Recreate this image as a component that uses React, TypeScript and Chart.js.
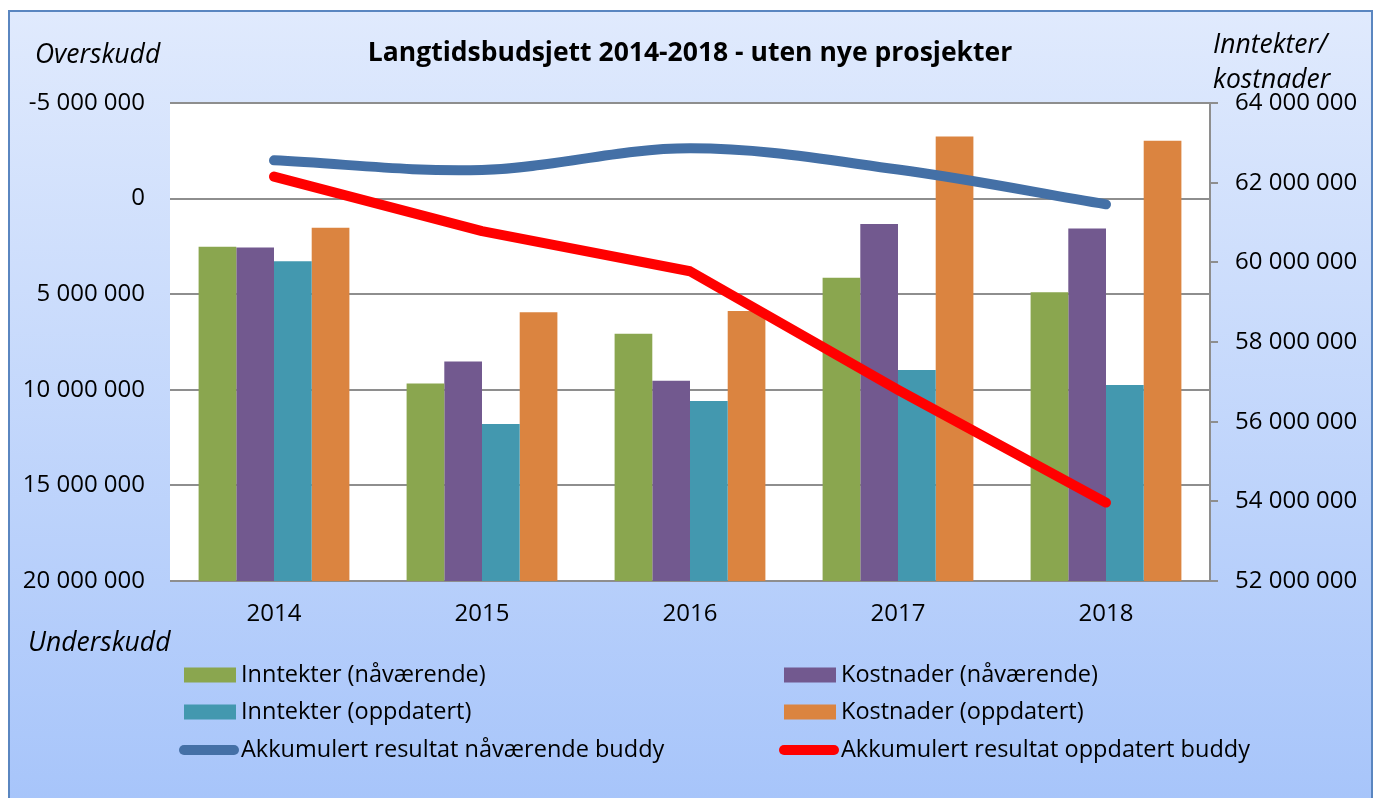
import React, { useEffect, useRef } from 'react';
import { Chart, registerables } from 'chart.js';

Chart.register(...registerables);

// ---- data ----
const years = ['2014', '2015', '2016', '2017', '2018'];
const inntekterNaavaerende = [60390000, 56960000, 58210000, 59610000, 59250000];
const kostnaderNaavaerende = [60370000, 57510000, 57030000, 60960000, 60850000];
const inntekterOppdatert = [60030000, 55940000, 56520000, 57300000, 56920000];
const kostnaderOppdatert = [60870000, 58750000, 58780000, 63160000, 63050000];
const akkumulertNaavaerende = [-2000000, -1500000, -2630000, -1520000, 300000];
const akkumulertOppdatert = [-1150000, 1700000, 3800000, 10000000, 15900000];

const seriesLabels = [
  'Inntekter (nåværende)',
  'Kostnader (nåværende)',
  'Inntekter (oppdatert)',
  'Kostnader (oppdatert)',
  'Akkumulert resultat nåværende buddy',
  'Akkumulert resultat oppdatert buddy',
];
const chartTitle = 'Langtidsbudsjett 2014-2018 - uten nye prosjekter';
const leftTopLabel = 'Overskudd';
const leftBottomLabel = 'Underskudd';
const rightLabelLines = ['Inntekter/', 'kostnader'];

const FONT = "'Open Sans', 'Noto Sans', sans-serif";

const fmt = (v: number) => {
  const s = Math.abs(Math.round(v)).toString().replace(/\B(?=(\d{3})+(?!\d))/g, ' ');
  return (v < 0 ? '-' : '') + s;
};

const decorPlugin = {
  id: 'decor',
  beforeDraw(chart: any) {
    const { ctx, chartArea: a } = chart;
    ctx.save();
    ctx.fillStyle = '#ffffff';
    ctx.fillRect(a.left, a.top, a.right - a.left, a.bottom - a.top);
    ctx.restore();
  },
  afterDraw(chart: any) {
    const { ctx, chartArea: a } = chart;
    ctx.save();
    ctx.fillStyle = '#000';
    ctx.textBaseline = 'middle';
    // title
    ctx.font = `bold 26.5px ${FONT}`;
    ctx.textAlign = 'center';
    ctx.fillText(chartTitle, (a.left + a.right) / 2, 53);
    // axis captions
    ctx.font = `italic 26.5px ${FONT}`;
    ctx.textAlign = 'left';
    ctx.fillText(leftTopLabel, 35, 55);
    ctx.fillText(leftBottomLabel, 28, 643);
    ctx.fillText(rightLabelLines[0], 1213, 45);
    ctx.fillText(rightLabelLines[1], 1213, 80);

    // legend (2 columns)
    const ds = chart.data.datasets;
    const colX = [184, 784];
    const rowY = [675, 712, 750];
    ctx.font = `23.5px ${FONT}`;
    ds.forEach((d: any, i: number) => {
      const col = i % 2;
      const row = Math.floor(i / 2);
      const x = colX[col];
      const y = rowY[row];
      if (d.type === 'line') {
        ctx.strokeStyle = d.borderColor;
        ctx.lineWidth = 10;
        ctx.lineCap = 'round';
        ctx.beginPath();
        ctx.moveTo(x, y);
        ctx.lineTo(x + 50, y);
        ctx.stroke();
      } else {
        ctx.fillStyle = d.backgroundColor;
        ctx.fillRect(x, y - 7.5, 52, 15);
      }
      ctx.fillStyle = '#000';
      ctx.textAlign = 'left';
      ctx.fillText(d.label, x + 57, y);
    });
    ctx.restore();
  },
};

export default function App() {
  const ref = useRef<HTMLCanvasElement | null>(null);

  useEffect(() => {
    document.body.style.margin = '0';
    if (!ref.current) return;
    const tickFont = { family: FONT, size: 24 };
    const chart = new Chart(ref.current, {
      type: 'bar',
      data: {
        labels: years,
        datasets: [
          { type: 'bar', label: seriesLabels[0], data: inntekterNaavaerende, backgroundColor: '#8aa64f', yAxisID: 'y1', order: 1 },
          { type: 'bar', label: seriesLabels[1], data: kostnaderNaavaerende, backgroundColor: '#72598f', yAxisID: 'y1', order: 1 },
          { type: 'bar', label: seriesLabels[2], data: inntekterOppdatert, backgroundColor: '#4398af', yAxisID: 'y1', order: 1 },
          { type: 'bar', label: seriesLabels[3], data: kostnaderOppdatert, backgroundColor: '#db8440', yAxisID: 'y1', order: 1 },
          {
            type: 'line', label: seriesLabels[4], data: akkumulertNaavaerende, borderColor: '#4470a6',
            backgroundColor: '#4470a6', borderWidth: 10, pointRadius: 0, tension: 0.35,
            borderCapStyle: 'round', borderJoinStyle: 'round', yAxisID: 'y', order: 0,
          },
          {
            type: 'line', label: seriesLabels[5], data: akkumulertOppdatert, borderColor: '#ff0000',
            backgroundColor: '#ff0000', borderWidth: 10, pointRadius: 0, tension: 0,
            borderCapStyle: 'round', borderJoinStyle: 'round', yAxisID: 'y', order: 0,
          },
        ] as any,
      },
      options: {
        responsive: false,
        animation: false,
        layout: { padding: { top: 103, left: 0, right: 0, bottom: 0 } },
        datasets: { bar: { categoryPercentage: 0.725, barPercentage: 1 } } as any,
        plugins: { legend: { display: false }, tooltip: { enabled: false }, title: { display: false } },
        scales: {
          x: {
            grid: { display: false, drawTicks: false },
            border: { display: false },
            ticks: { font: tickFont, color: '#000', padding: 19 },
            afterFit: (s: any) => { s.height = 798 - 581; },
          },
          y: {
            position: 'left',
            reverse: true,
            min: -5000000,
            max: 20000000,
            grid: { color: '#8e8e8e', lineWidth: 2, drawTicks: false },
            border: { display: false },
            ticks: { stepSize: 5000000, font: tickFont, color: '#000', padding: 25, callback: (v: any) => fmt(Number(v)) },
            afterFit: (s: any) => { s.width = 170; },
          },
          y1: {
            position: 'right',
            min: 52000000,
            max: 64000000,
            grid: { drawOnChartArea: false, drawTicks: true, tickLength: 8, color: '#8e8e8e', lineWidth: 2 },
            border: { display: true, color: '#8e8e8e', width: 2 },
            ticks: { stepSize: 2000000, font: tickFont, color: '#000', padding: 17, callback: (v: any) => fmt(Number(v)) },
            afterFit: (s: any) => { s.width = 1379 - 1210; },
          },
        },
      } as any,
      plugins: [decorPlugin],
    });
    return () => chart.destroy();
  }, []);

  return (
    <div style={{ position: 'relative', width: 1379, height: 798, overflow: 'hidden', background: '#fff' }}>
      <div
        style={{
          position: 'absolute', left: 8, top: 10, width: 1365, height: 810, boxSizing: 'border-box',
          border: '2px solid #5a86c0',
          background: 'linear-gradient(to bottom, #e0eafd 0%, #a6c4fa 100%)',
        }}
      />
      <canvas ref={ref} width={1379} height={798} style={{ position: 'absolute', left: 0, top: 0 }} />
    </div>
  );
}
